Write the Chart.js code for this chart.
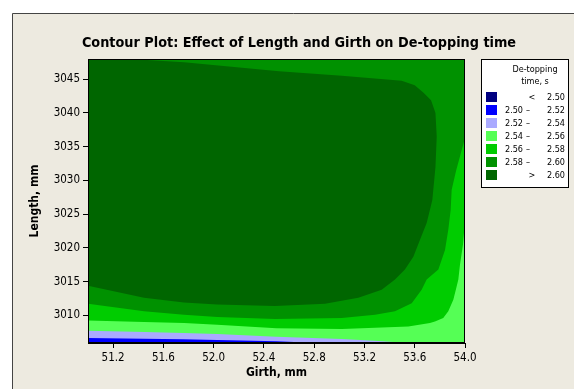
<!DOCTYPE html>
<html>
<head>
<meta charset="utf-8">
<title>Contour Plot: Effect of Length and Girth on De-topping time</title>
<script src="https://cdn.jsdelivr.net/npm/chart.js@4.4.1/dist/chart.umd.min.js"></script>
<style>
  html, body { margin: 0; padding: 0; background: #fff; }
  #wrap { position: relative; width: 574px; height: 389px; }
</style>
</head>
<body>
<div id="wrap"><canvas id="contour-chart"></canvas></div>
<script>
// axis limits and tick values
const girthRange = [51.0, 54.0]
const lengthRange = [3005.9, 3048.0]
const girthTicks = [51.2, 51.6, 52.0, 52.4, 52.8, 53.2, 53.6, 54.0]
const lengthTicks = [3010, 3015, 3020, 3025, 3030, 3035, 3040, 3045]

// contour lines: girth (mm) / length (mm)
const c252Girth = [52.83, 52.5, 52.03, 51.76, 51.45, 51.0]
const c252Length = [3005.9, 3006.15, 3006.35, 3006.44, 3006.54, 3006.65]

const c254Girth = [53.55, 53.28, 53.02, 52.5, 52.03, 51.76, 51.45, 51.0]
const c254Length = [3005.9, 3006.25, 3006.5, 3006.84, 3007.24, 3007.39, 3007.54, 3007.73]

const c256Girth = [54.0, 53.984, 53.96, 53.947, 53.934, 53.907, 53.867, 53.827, 53.761, 53.721, 53.549, 53.019, 52.5, 52.029, 51.764, 51.446, 51.0]
const c256Length = [3023.9, 3020.5, 3017.5, 3015.3, 3014.3, 3012.3, 3010.6, 3009.6, 3009.1, 3008.87, 3008.36, 3007.98, 3008.1, 3008.62, 3008.87, 3009.02, 3009.25]

const c258Girth = [54.0, 53.93, 53.894, 53.886, 53.867, 53.841, 53.788, 53.695, 53.655, 53.576, 53.443, 53.284, 53.019, 52.488, 52.029, 51.764, 51.446, 51.0]
const c258Length = [3036.3, 3031.5, 3028.6, 3025.6, 3022.7, 3019.7, 3016.8, 3015.3, 3013.8, 3011.8, 3010.6, 3010.1, 3009.6, 3009.45, 3009.76, 3010.1, 3010.6, 3011.7]

const c260Girth = [51.34, 51.764, 52.52, 53.02, 53.496, 53.60, 53.67, 53.73, 53.765, 53.775, 53.765, 53.74, 53.727, 53.695, 53.642, 53.589, 53.522, 53.443, 53.337, 53.151, 52.886, 52.488, 52.029, 51.764, 51.446, 51.0]
const c260Length = [3048.0, 3047.51, 3046.18, 3045.53, 3044.79, 3044.1, 3043.0, 3041.9, 3040.0, 3036.5, 3032.0, 3027.1, 3026.1, 3023.7, 3021.2, 3018.7, 3016.8, 3015.3, 3013.8, 3012.6, 3011.7, 3011.4, 3011.6, 3011.9, 3012.6, 3014.4]

// legend bands
const bandLow = [null, '2.50', '2.52', '2.54', '2.56', '2.58', null]
const bandHigh = ['2.50', '2.52', '2.54', '2.56', '2.58', '2.60', '2.60']
const bandColors = ['#000080', '#0000FF', '#AAAAFF', '#55FF55', '#00CC00', '#009100', '#006600']

const [gMin, gMax] = girthRange
const [lMin, lMax] = lengthRange
const FONT = "'DejaVu Sans Condensed', 'DejaVu Sans', sans-serif"

// closed polygon: contour curve + plot corners
function region(girth, length, corners) {
  const pts = girth.map((g, i) => ({ x: g, y: length[i] }))
  corners.forEach((c) => pts.push({ x: c[0], y: c[1] }))
  pts.push(pts[0])
  return pts
}

function layer(data, color, order) {
  return {
    data: data,
    showLine: true,
    fill: 'shape',
    backgroundColor: color,
    borderColor: 'rgba(0,0,0,0)',
    borderWidth: 0,
    pointRadius: 0,
    tension: 0,
    order: order,
  }
}

const frame = {
  id: 'frame',
  beforeDraw(chart) {
    const ctx = chart.ctx
    ctx.save()
    ctx.fillStyle = '#fff'
    ctx.fillRect(0, 0, chart.width, chart.height)
    ctx.fillStyle = '#EDEAE0'
    ctx.fillRect(12, 13, chart.width - 12, chart.height - 13)
    ctx.strokeStyle = '#444'
    ctx.lineWidth = 1
    ctx.beginPath()
    ctx.moveTo(12.5, chart.height)
    ctx.lineTo(12.5, 13.5)
    ctx.lineTo(chart.width, 13.5)
    ctx.stroke()
    // title
    ctx.fillStyle = '#000'
    ctx.font = 'bold 14.3px ' + FONT
    ctx.textAlign = 'center'
    ctx.textBaseline = 'alphabetic'
    ctx.fillText('Contour Plot: Effect of Length and Girth on De-topping time', 299, 47)
    ctx.restore()
  },
  beforeDatasetsDraw(chart) {
    const a = chart.chartArea
    const ctx = chart.ctx
    ctx.save()
    ctx.fillStyle = bandColors[1]
    ctx.fillRect(a.left, a.top, a.right - a.left, a.bottom - a.top)
    ctx.restore()
  },
  afterDraw(chart) {
    const a = chart.chartArea
    const ctx = chart.ctx
    ctx.save()
    ctx.strokeStyle = '#000'
    ctx.lineWidth = 1
    ctx.strokeRect(a.left + 0.5, a.top + 0.5, a.right - a.left - 1, a.bottom - a.top - 1)

    // legend box
    const lx = 481.5, ly = 59.5
    ctx.fillStyle = '#fff'
    ctx.fillRect(lx, ly, 87, 128)
    ctx.strokeRect(lx, ly, 87, 128)
    ctx.fillStyle = '#000'
    ctx.font = '9px ' + FONT
    ctx.textAlign = 'center'
    ctx.textBaseline = 'middle'
    ctx.fillText('De-topping', 535, 70)
    ctx.fillText('time, s', 535, 82)
    bandColors.forEach((c, i) => {
      const y = 92 + 13 * i
      ctx.fillStyle = c
      ctx.fillRect(486, y, 11, 10)
      ctx.fillStyle = '#000'
      const ty = y + 5.5
      if (bandLow[i] === null) {
        ctx.textAlign = 'center'
        ctx.fillText(i === 0 ? '<' : '>', 532, ty)
      } else {
        ctx.textAlign = 'left'
        ctx.fillText(bandLow[i], 505, ty)
        ctx.textAlign = 'center'
        ctx.fillText('\u2013', 528, ty)
      }
      ctx.textAlign = 'right'
      ctx.fillText(bandHigh[i], 565, ty)
    })
    ctx.restore()
  },
}

new Chart(document.getElementById('contour-chart'), {
  type: 'scatter',
  data: {
    datasets: [
      layer(region(c260Girth, c260Length, [[gMin, lMax]]), bandColors[6], 0),
      layer(region(c258Girth, c258Length, [[gMin, lMax], [gMax, lMax]]), bandColors[5], 1),
      layer(region(c256Girth, c256Length, [[gMin, lMax], [gMax, lMax]]), bandColors[4], 2),
      layer(region(c254Girth, c254Length, [[gMin, lMax], [gMax, lMax], [gMax, lMin]]), bandColors[3], 3),
      layer(region(c252Girth, c252Length, [[gMin, lMax], [gMax, lMax], [gMax, lMin]]), bandColors[2], 4),
    ],
  },
  options: {
    responsive: true,
    maintainAspectRatio: false,
    animation: false,
    events: [],
    layout: { padding: { left: 12, top: 59, right: 109, bottom: 0 } },
    plugins: {
      legend: { display: false },
      tooltip: { enabled: false },
    },
    scales: {
      x: {
        type: 'linear',
        min: gMin,
        max: gMax,
        afterBuildTicks(scale) {
          scale.ticks = girthTicks.map((v) => ({ value: v }))
        },
        afterFit(scale) {
          scale.height = 46
        },
        ticks: {
          color: '#000',
          padding: 3,
          font: { family: FONT, size: 11.5 },
          maxRotation: 0,
          autoSkip: false,
          callback: (v) => Number(v).toFixed(1),
        },
        grid: { drawOnChartArea: false, color: '#000', tickLength: 5 },
        border: { color: '#000' },
        title: {
          display: true,
          text: 'Girth, mm',
          color: '#000',
          font: { family: FONT, size: 12, weight: 'bold' },
          padding: { top: 0, bottom: 9 },
        },
      },
      y: {
        type: 'linear',
        min: lMin,
        max: lMax,
        afterBuildTicks(scale) {
          scale.ticks = lengthTicks.map((v) => ({ value: v }))
        },
        afterFit(scale) {
          scale.width = 76
        },
        ticks: {
          color: '#000',
          padding: 3,
          font: { family: FONT, size: 11.5 },
          autoSkip: false,
          callback: (v) => String(v),
        },
        grid: { drawOnChartArea: false, color: '#000', tickLength: 5 },
        border: { color: '#000' },
        title: {
          display: true,
          text: 'Length, mm',
          color: '#000',
          font: { family: FONT, size: 12, weight: 'bold' },
          padding: { top: 16, bottom: 0 },
        },
      },
    },
  },
  plugins: [frame],
})
</script>
</body>
</html>
